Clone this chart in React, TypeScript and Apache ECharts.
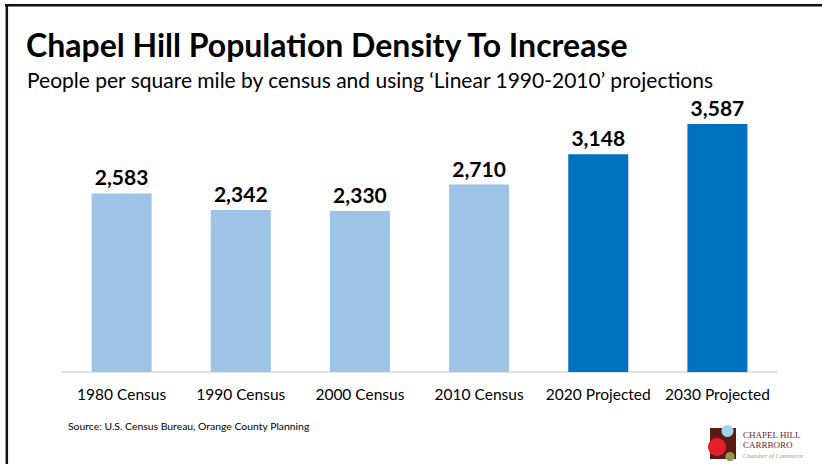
import React, { useEffect, useRef } from "react";
import * as echarts from "echarts";

const categories = ["1980 Census", "1990 Census", "2000 Census", "2010 Census", "2020 Projected", "2030 Projected"];
const values = [2583, 2342, 2330, 2710, 3148, 3587];
const projected = [false, false, false, false, true, true];
const titleText = "Chapel Hill Population Density To Increase";
const subtitleText = "People per square mile by census and using \u2018Linear 1990-2010\u2019 projections";
const sourceText = "Source: U.S. Census Bureau, Orange County Planning";

const FONT = "Lato, 'Open Sans', sans-serif";
const SERIF = "'Liberation Serif', 'DejaVu Serif', serif";

export default function App() {
  const ref = useRef<HTMLDivElement>(null);
  useEffect(() => {
    if (!ref.current) return;
    const chart = echarts.init(ref.current, undefined, { renderer: "svg" });
    chart.setOption({
      animation: false,
      backgroundColor: "#ffffff",
      grid: { left: 62, right: 45, top: 95.4, bottom: 92 },
      xAxis: {
        type: "category",
        data: categories,
        axisLine: { lineStyle: { color: "#D9D9D9", width: 1.5 } },
        axisTick: { show: false },
        axisLabel: { color: "#000", fontSize: 15.5, fontFamily: FONT, margin: 14, interval: 0 },
      },
      yAxis: { type: "value", min: 0, max: 4000, show: false, splitLine: { show: false } },
      series: [
        {
          type: "bar",
          barWidth: 60,
          data: values.map((v, i) => ({
            value: v,
            itemStyle: { color: projected[i] ? "#0070C0" : "#9DC3E6" },
          })),
          label: {
            show: true,
            position: "top",
            distance: 6,
            color: "#000",
            fontSize: 21,
            fontWeight: "bold",
            fontFamily: FONT,
            formatter: (p: any) => Number(p.value).toLocaleString("en-US"),
          },
        },
      ],
      graphic: [
        { type: "line", shape: { x1: 5, y1: 5.3, x2: 822, y2: 5.3 }, style: { stroke: "#111", lineWidth: 2.5 } },
        { type: "line", shape: { x1: 6.8, y1: 4, x2: 6.8, y2: 464 }, style: { stroke: "#111", lineWidth: 2.5 } },
        { type: "text", left: 26, top: 28, style: { text: titleText, fill: "#000", font: `bold 32px ${FONT}` } },
        { type: "text", left: 27, top: 69, style: { text: subtitleText, fill: "#000", font: `21px ${FONT}` } },
        { type: "text", left: 68, top: 421, style: { text: sourceText, fill: "#000", font: `10.4px ${FONT}` } },
        {
          type: "group",
          x: 0,
          y: 0,
          children: [
            { type: "rect", shape: { x: 710, y: 428, width: 26, height: 31 }, style: { fill: "#5C1A14" } },
            { type: "circle", shape: { cx: 717, cy: 447, r: 9 }, style: { fill: "#E31E2D" } },
            { type: "circle", shape: { cx: 727.5, cy: 431, r: 6 }, style: { fill: "#9ED3F0" } },
            { type: "circle", shape: { cx: 730, cy: 456.5, r: 4.6 }, style: { fill: "#8E9A4E" } },
            { type: "text", x: 743, y: 434.5, style: { text: "CHAPEL HILL", fill: "#6B1E1E", font: `9px ${SERIF}`, verticalAlign: "middle" } },
            { type: "text", x: 743, y: 444.5, style: { text: "CARRBORO", fill: "#6B1E1E", font: `9px ${SERIF}`, verticalAlign: "middle" } },
            { type: "text", x: 743, y: 455, style: { text: "Chamber of Commerce", fill: "#A0A070", font: `italic 6.5px ${SERIF}`, verticalAlign: "middle" } },
          ],
        },
      ],
    });
    return () => chart.dispose();
  }, []);
  return <div ref={ref} style={{ position: "fixed", left: 0, top: 0, width: 822, height: 464 }} />;
}
